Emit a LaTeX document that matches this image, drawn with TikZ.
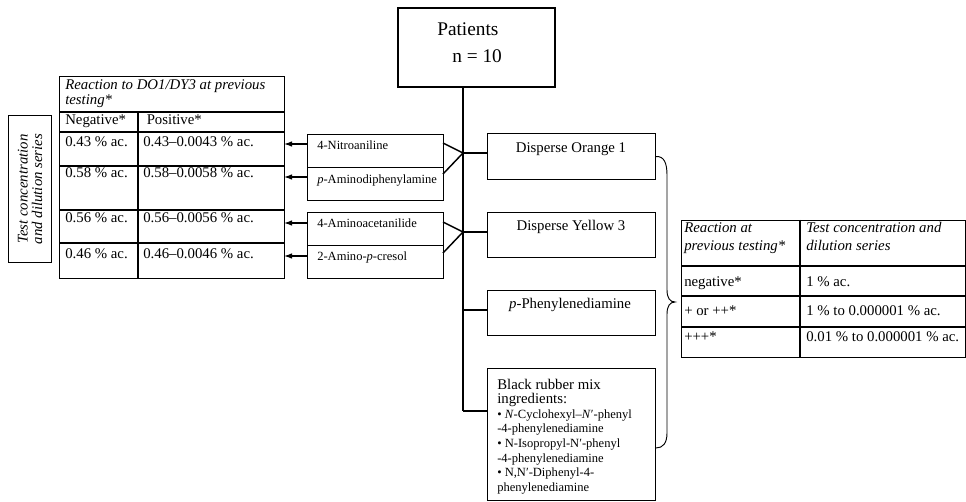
\documentclass[tikz,border=0pt]{standalone}
\usepackage{fontspec}
\setmainfont{Liberation Serif}
\usetikzlibrary{arrows.meta}
\newcommand\fbig{\fontsize{11.1pt}{11pt}\selectfont}
\newcommand\fsmall{\fontsize{9.4pt}{11pt}\selectfont}
\newcommand\fpat{\fontsize{14.5pt}{17pt}\selectfont}
\begin{document}
\begin{tikzpicture}[x=0.75pt,y=-0.75pt,
  box/.style={draw, line width=0.8pt, inner sep=0pt, anchor=north west},
  txt/.style={inner sep=0pt, anchor=base west},
  ctxt/.style={inner sep=0pt, anchor=base},
  trunk/.style={line width=1.5pt},
  fork/.style={line width=1.1pt},
  arr/.style={-{Latex[length=6pt,width=4.2pt]}, line width=0.9pt},
  tline/.style={line width=0.8pt},
  brace/.style={line width=0.7pt}]
\useasboundingbox (0,0) rectangle (966,502);

% Patients
\node[box, line width=1.5pt, minimum width=157*0.75pt, minimum height=79*0.75pt] (pat) at (397,7) {};
\node[txt, font=\fpat] (pattxt) at (437,36) {Patients};
\node[txt, font=\fpat] (ntxt) at (452,63) {n = 10};

% trunk coordinates
\coordinate (j1) at (463,153);
\coordinate (j2) at (463,232);
\coordinate (j3) at (463,310);
\coordinate (tb) at (463,411);

% right boxes
\node[box, minimum width=168*0.75pt, minimum height=46*0.75pt] (do1) at (487,133) {};
\node[ctxt, font=\fbig] (do1t) at (571,153) {Disperse Orange 1};
\node[box, minimum width=168*0.75pt, minimum height=45*0.75pt] (dy3) at (487,212) {};
\node[ctxt, font=\fbig] (dy3t) at (571,230.7) {Disperse Yellow 3};
\node[box, minimum width=168*0.75pt, minimum height=45*0.75pt] (ppd) at (487,290) {};
\node[ctxt, font=\fbig] (ppdt) at (570,308) {\textit{p}-Phenylenediamine};
\node[box, minimum width=168*0.75pt, minimum height=132*0.75pt] (brm) at (487,368) {};
\node[txt, font=\fbig] (br1) at (497,389) {Black rubber mix};
\node[txt, font=\fbig] (br2) at (497,403.5) {ingredients:};
\node[txt, font=\fsmall] (br3) at (497,418.2) {• \textit{N}-Cyclohexyl–\textit{N}′-phenyl};
\node[txt, font=\fsmall] (br4) at (497,432.8) {-4-phenylenediamine};
\node[txt, font=\fsmall] (br5) at (497,447.4) {• N-Isopropyl-N′-phenyl};
\node[txt, font=\fsmall] (br6) at (497,462) {-4-phenylenediamine};
\node[txt, font=\fsmall] (br7) at (497,476.6) {• N,N′-Diphenyl-4-};
\node[txt, font=\fsmall] (br8) at (497,491.2) {phenylenediamine};

% trunk and branches
\draw[trunk] (pat.south -| tb) -- (tb);
\draw[trunk] (j1) -- (do1.west |- j1);
\draw[trunk] (j2) -- (dy3.west |- j2);
\draw[trunk] (j3) -- (ppd.west |- j3);
\draw[trunk] (tb) -- (brm.west |- tb);

% small boxes
\node[box, minimum width=136*0.75pt, minimum height=33*0.75pt] (nitro) at (307,134) {};
\node[box, minimum width=136*0.75pt, minimum height=33*0.75pt] (pamin) at (307,167) {};
\node[box, minimum width=136*0.75pt, minimum height=33*0.75pt] (acet) at (307,212) {};
\node[box, minimum width=136*0.75pt, minimum height=33*0.75pt] (cres) at (307,245) {};
\node[txt, font=\fsmall] (nitrot) at (317,150) {4-Nitroaniline};
\node[txt, font=\fsmall] (pamint) at (317,183.3) {\textit{p}-Aminodiphenylamine};
\node[txt, font=\fsmall] (acett) at (317,228) {4-Aminoacetanilide};
\node[txt, font=\fsmall] (crest) at (317,260.7) {2-Amino-\textit{p}-cresol};

% forks
\coordinate (f1) at (443,143);
\coordinate (f2) at (443,174);
\coordinate (f3) at (443,222);
\coordinate (f4) at (443,253);
\draw[fork] (f1) -- (j1) -- (f2);
\draw[fork] (f3) -- (j2) -- (f4);

% left table
\node[box, minimum width=225*0.75pt, minimum height=202*0.75pt] (ltab) at (59,76) {};
\draw[tline] (ltab.west |- 0,112) -- (ltab.east |- 0,112);
\draw[tline] (ltab.west |- 0,132) -- (ltab.east |- 0,132);
\draw[tline] (ltab.west |- 0,166) -- (ltab.east |- 0,166);
\draw[tline] (ltab.west |- 0,210) -- (ltab.east |- 0,210);
\draw[tline] (ltab.west |- 0,243) -- (ltab.east |- 0,243);
\draw[tline] (138,112) -- (ltab.south -| 138,0);
\node[txt, font=\fbig\itshape] (lh1) at (65,90) {Reaction to DO1/DY3 at previous};
\node[txt, font=\fbig\itshape] (lh2) at (65,105) {testing*};
\node[txt, font=\fbig] (lneg) at (65,125) {Negative*};
\node[txt, font=\fbig] (lpos) at (146.5,125) {Positive*};
\node[txt, font=\fbig] (ln1) at (65,147) {0.43 \% ac.};
\node[txt, font=\fbig] (lp1) at (143,147) {0.43–0.0043 \% ac.};
\node[txt, font=\fbig] (ln2) at (65,178) {0.58 \% ac.};
\node[txt, font=\fbig] (lp2) at (143,178) {0.58–0.0058 \% ac.};
\node[txt, font=\fbig] (ln3) at (65,223) {0.56 \% ac.};
\node[txt, font=\fbig] (lp3) at (143,223) {0.56–0.0056 \% ac.};
\node[txt, font=\fbig] (ln4) at (65,258) {0.46 \% ac.};
\node[txt, font=\fbig] (lp4) at (143,258) {0.46–0.0046 \% ac.};

% arrows
\coordinate (a1) at (284,144);
\coordinate (a2) at (284,177);
\coordinate (a3) at (284,223);
\coordinate (a4) at (284,256);
\draw[arr] (nitro.west |- a1) -- (a1);
\draw[arr] (pamin.west |- a2) -- (a2);
\draw[arr] (acet.west |- a3) -- (a3);
\draw[arr] (cres.west |- a4) -- (a4);

% vertical label
\node[box, minimum width=43*0.75pt, minimum height=147*0.75pt] (vbox) at (8,115) {};
\node[inner sep=0pt, rotate=90, align=center, font=\fontsize{11.1pt}{10.9pt}\selectfont\itshape] (vtxt) at (vbox.center) {Test concentration\\and dilution series};

% right table
\node[box, minimum width=284*0.75pt, minimum height=137*0.75pt] (rtab) at (681,220) {};
\draw[tline] (rtab.west |- 0,266) -- (rtab.east |- 0,266);
\draw[tline] (rtab.west |- 0,296) -- (rtab.east |- 0,296);
\draw[tline] (rtab.west |- 0,327) -- (rtab.east |- 0,327);
\draw[tline] (rtab.north -| 800,0) -- (rtab.south -| 800,0);
\node[txt, font=\fbig\itshape] (rh1) at (684,232.7) {Reaction at};
\node[txt, font=\fbig\itshape] (rh2) at (684,250) {previous testing*};
\node[txt, font=\fbig\itshape] (rh3) at (806,232.7) {Test concentration and};
\node[txt, font=\fbig\itshape] (rh4) at (806,250) {dilution series};
\node[txt, font=\fbig] (rr1) at (684,286.7) {negative*};
\node[txt, font=\fbig] (rc1) at (806,286.7) {1 \% ac.};
\node[txt, font=\fbig] (rr2) at (684,315) {+ or ++*};
\node[txt, font=\fbig] (rc2) at (806,315) {1 \% to 0.000001 \% ac.};
\node[txt, font=\fbig] (rr3) at (684,341.7) {+++*};
\node[txt, font=\fbig] (rc3) at (806,341.7) {0.01 \% to 0.000001 \% ac.};

% brace
\coordinate (bt) at (675,302);
\coordinate (bb) at (655,448);
\draw[brace] (do1.east) .. controls (664,156) and (667,163) .. (667,175)
  -- (667,290) .. controls (667,298) and (670,302) .. (bt)
  .. controls (670,302) and (667,306) .. (667,314)
  -- (667,433) .. controls (667,443) and (663,448) .. (brm.east |- bb);
\end{tikzpicture}
\end{document}
